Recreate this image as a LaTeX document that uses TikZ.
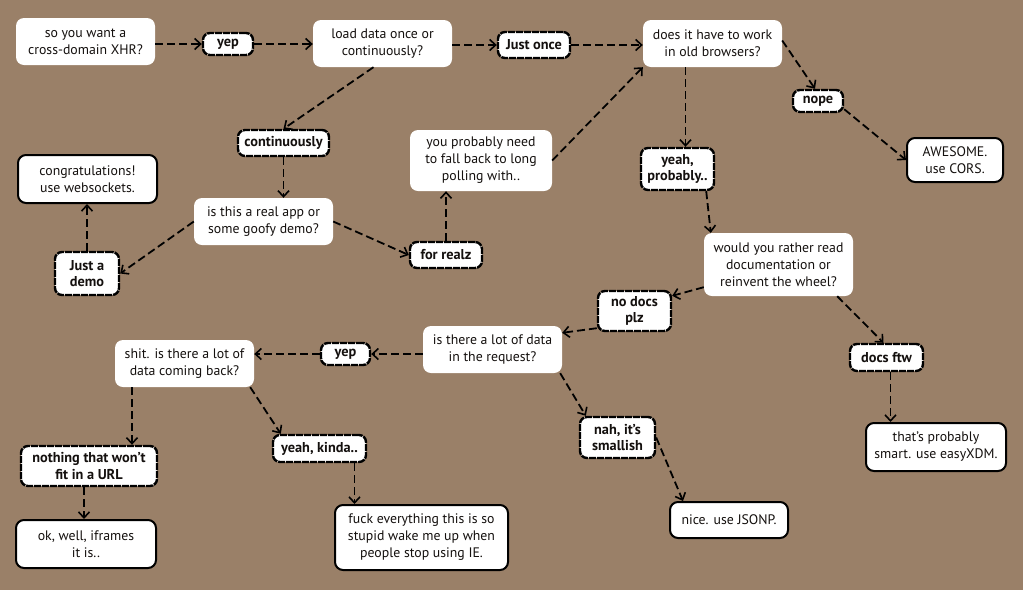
\documentclass[tikz,border=0pt]{standalone}
\usepackage{fontspec}
\setmainfont{PT Sans}
\usetikzlibrary{arrows.meta}
\definecolor{bgbrown}{RGB}{154,128,104}
\definecolor{ink}{RGB}{20,16,14}
\tikzset{
  basebox/.style={fill=white, rounded corners=8pt, align=center, inner sep=0pt,
    text=ink, font=\fontsize{13.8}{17}\selectfont},
  qbox/.style={basebox},
  endbox/.style={basebox, draw=black, line width=2pt},
  ansbox/.style={basebox, draw=black, line width=2.4pt, rounded corners=7pt,
    dash pattern=on 7pt off 1pt, font=\fontsize{14.3}{16.5}\selectfont\bfseries},
  sz/.style 2 args={minimum width=#1pt, minimum height=#2pt},
  flow/.style={draw=black, line width=1.8pt, dash pattern=on 8pt off 4pt,
    -{Straight Barb[length=6pt,width=11pt,line width=1.6pt]}},
}
\begin{document}
\begin{tikzpicture}[x=1pt,y=-1pt]
\fill[bgbrown] (0,0) rectangle (1023,590);
\useasboundingbox (0,0) rectangle (1023,590);

% questions
\node[qbox,sz={139}{47}] (q1) at (85.5,41.5) {so you want a\\cross-domain XHR?};
\node[qbox,sz={139}{47}] (q2) at (382.5,43.5) {load data once or\\continuously?};
\node[qbox,sz={139}{47}] (q3) at (712.5,43.5) {does it have to work\\in old browsers?};
\node[qbox,sz={142}{61}] (lp) at (481,160.5) {you probably need\\to fall back to long\\polling with..};
\node[qbox,sz={139}{47}] (ra) at (263.5,221.5) {is this a real app or\\some goofy demo?};
\node[qbox,sz={149}{63}] (wy) at (778.5,264.5) {would you rather read\\documentation or\\reinvent the wheel?};
\node[qbox,sz={139}{47}] (req) at (492.5,349.5) {is there a lot of data\\in the request?};
\node[qbox,sz={139}{47}] (sh) at (184.5,363.5) {shit. is there a lot of\\data coming back?};

% answers
\node[ansbox,sz={50}{22}] (yep1) at (228,44) {yep};
\node[ansbox,sz={72}{26}] (jo) at (534,45) {Just once};
\node[ansbox,sz={50}{22}] (nope) at (818,101) {nope};
\node[ansbox,sz={73}{42}] (yp) at (677.5,169) {yeah,\\probably..};
\node[ansbox,sz={91}{26}] (cont) at (283.5,143) {continuously};
\node[ansbox,sz={72}{26}] (fr) at (446,255) {for realz};
\node[ansbox,sz={64}{43}] (jd) at (87,273.5) {Just a\\demo};
\node[ansbox,sz={73}{40}] (nd) at (634.5,311) {no docs\\plz};
\node[ansbox,sz={49}{22}] (yep2) at (345.5,354) {yep};
\node[ansbox,sz={73}{27}] (df) at (886.5,357.5) {docs ftw};
\node[ansbox,sz={136}{40}] (nt) at (89,466) {nothing that won't\\fit in a URL};
\node[ansbox,sz={93}{27}] (yk) at (319.5,448.5) {yeah, kinda..};
\node[ansbox,sz={75}{41}] (nah) at (617.5,437.5) {nah, it's\\smallish};

% outcomes
\node[endbox,sz={96}{44}] (aw) at (955,160) {AWESOME.\\use CORS.};
\node[endbox,sz={139}{48}] (cg) at (87.5,179) {congratulations!\\use websockets.};
\node[endbox,sz={140}{48}] (ez) at (936,447) {that's probably\\smart. use easyXDM.};
\node[endbox,sz={140}{48}] (ifr) at (86,544) {ok, well, iframes\\it is..};
\node[endbox,sz={173}{65}] (fk) at (421.5,537.5) {fuck everything this is so\\stupid wake me up when\\people stop using IE.};
\node[endbox,sz={118}{36}] (nice) at (729,520) {nice. use JSONP.};

% connectors
\path[flow] (yep1.west -| q1.east) -- (yep1.west);
\path[flow] (yep1.east) -- (yep1.east -| q2.west);
\path[flow] (jo.west -| q2.east) -- (jo.west);
\path[flow] (jo.east) -- (jo.east -| q3.west);
\path[flow] ([yshift=3pt]q3.east) -- ([xshift=-3pt]nope.north);
\path[flow] ([yshift=4pt]nope.south east) -- (aw.west);
\path[flow] ([xshift=8pt]yp.north |- q3.south) -- ([xshift=8pt]yp.north);
\path[flow] ([xshift=-9pt]yp.south east) -- ([xshift=7pt]wy.north west);
\path[flow] ([xshift=-9pt]q2.south) -- (cont.north);
\path[flow] (cont.south) -- (cont.south |- ra.north);
\path[flow] (ra.west) -- (jd.east);
\path[flow] (ra.east) -- (fr.west);
\path[flow] (fr.north) -- (fr.north |- lp.south);
\path[flow] (jd.north) -- (jd.north |- cg.south);
\path[flow] (lp.east) -- (q3.south west);
\path[flow] ([yshift=9pt]wy.south west) -- ([yshift=-6pt]nd.north east);
\path[flow] ([xshift=-16pt]wy.south east) -- ([xshift=-3pt]df.north);
\path[flow] ([yshift=4pt]nd.south west) -- ([yshift=-7pt]req.north east);
\path[flow] (yep2.east -| req.west) -- (yep2.east);
\path[flow] (yep2.west) -- (yep2.west -| sh.east);
\path[flow] ([xshift=-2pt]req.south east) -- ([xshift=7pt]nah.north west);
\path[flow] (nah.east) -- ([xshift=14pt]nice.north west);
\path[flow] ([xshift=4pt]df.south) -- ([xshift=4pt]df.south |- ez.north);
\path[flow] ([xshift=43pt]nt.north |- sh.south) -- ([xshift=43pt]nt.north);
\path[flow] ([xshift=-4pt]sh.south east) -- ([xshift=9pt]yk.north west);
\path[flow] ([xshift=-5pt]nt.south) -- ([xshift=-5pt]nt.south |- ifr.north);
\path[flow] ([xshift=35pt]yk.south) -- ([xshift=35pt]yk.south |- fk.north);
\end{tikzpicture}
\end{document}
